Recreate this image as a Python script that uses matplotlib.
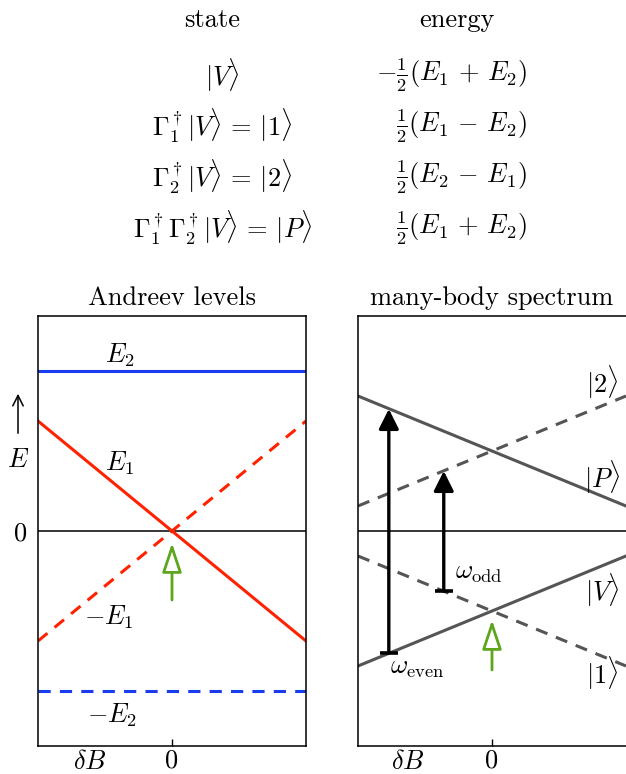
import numpy as np
import matplotlib
matplotlib.use("Agg")
import matplotlib.pyplot as plt

plt.rcParams['font.family'] = 'serif'
plt.rcParams['font.serif'] = ['cmr10']
plt.rcParams['mathtext.fontset'] = 'cm'
plt.rcParams['axes.formatter.use_mathtext'] = True

# field sweep (delta B) and Andreev levels
dB = [-1.0, 1.0]
E1 = [1.1, -1.1]
E2 = [1.6, 1.6]
mE1 = [-1.1, 1.1]
mE2 = [-1.6, -1.6]

# many-body levels
state_V = [-1.35, -0.25]
state_P = [1.35, 0.25]
state_1 = [-0.25, -1.35]
state_2 = [0.25, 1.35]

# transitions (x, from, to)
w_even = (-0.77, -1.22, 1.22)
w_odd = (-0.36, -0.60, 0.60)

# table
states = [r'$|V\rangle$', r'$\Gamma_1^\dagger|V\rangle\,=\,|1\rangle$',
          r'$\Gamma_2^\dagger|V\rangle\,=\,|2\rangle$',
          r'$\Gamma_1^\dagger\Gamma_2^\dagger|V\rangle\,=\,|P\rangle$']
energies = [r'$-\frac{1}{2}(E_1\,+\,E_2)$', r'$\frac{1}{2}(E_1\,-\,E_2)$',
            r'$\frac{1}{2}(E_2\,-\,E_1)$', r'$\frac{1}{2}(E_1\,+\,E_2)$']

W, H = 626, 774
fig = plt.figure(figsize=(W / 100, H / 100), dpi=100)

red = '#ff2200'
blue = '#1a3cf0'
gray = '#555555'
green = '#5ca51c'
fs = 19

def px(x, y):
    return x / W, 1 - y / H

# table text
fig.text(*px(212, 20), 'state', fontsize=fs, ha='center', va='center')
fig.text(*px(457, 20), 'energy', fontsize=fs, ha='center', va='center')
row_y = [75, 126, 177, 228]
for s, e, y in zip(states, energies, row_y):
    fig.text(*px(222, y), s, fontsize=fs, ha='center', va='center')
    fig.text(*px(527, y), e, fontsize=fs, ha='right', va='center')

ax1 = fig.add_axes([38 / W, 28 / H, 268 / W, 430 / H])
ax2 = fig.add_axes([358 / W, 28 / H, 268 / W, 430 / H])

for ax in (ax1, ax2):
    ax.set_xlim(-1, 1)
    ax.set_ylim(-2.15, 2.15)
    ax.axhline(0, color='black', lw=1.1)
    ax.set_xticks([0])
    ax.set_xticklabels(['0'], fontsize=fs)
    ax.tick_params(axis='x', direction='in', length=5, width=1, pad=2)
    for sp in ax.spines.values():
        sp.set_linewidth(1.1)

ax2.spines['right'].set_visible(False)
ax1.set_yticks([0])
ax1.set_yticklabels(['0'], fontsize=fs)
ax1.tick_params(axis='y', length=0, pad=8)
ax2.set_yticks([])

# Andreev levels
ax1.plot(dB, E2, color=blue, lw=2.2)
ax1.plot(dB, mE2, color=blue, lw=2.2, dashes=(4, 3))
ax1.plot(dB, E1, color=red, lw=2.2)
ax1.plot(dB, mE1, color=red, lw=2.2, dashes=(4, 3))
ax1.text(-0.39, 1.76, r'$E_2$', fontsize=fs, ha='center', va='center')
ax1.text(-0.39, 0.68, r'$E_1$', fontsize=fs, ha='center', va='center')
ax1.text(-0.47, -0.86, r'$-E_1$', fontsize=fs, ha='center', va='center')
ax1.text(-0.45, -1.84, r'$-E_2$', fontsize=fs, ha='center', va='center')
ax1.annotate('', xy=(0, -0.12), xytext=(0, -0.69),
             arrowprops=dict(arrowstyle='-|>,head_length=0.9,head_width=0.3',
                             mutation_scale=20, fc='white', ec=green, lw=2,
                             shrinkA=0, shrinkB=0))
ax1.set_title('Andreev levels', fontsize=fs, pad=8)
ax1.text(-0.61, -2.19, r'$\delta B$', fontsize=fs, ha='center', va='top')

# E axis label with arrow
fig.text(*px(18, 460), r'$E$', fontsize=fs, ha='center', va='center')
fig.add_artist(matplotlib.patches.FancyArrowPatch(
    px(18, 436), px(18, 391), transform=fig.transFigure,
    arrowstyle='->,head_length=0.5,head_width=0.25', mutation_scale=15,
    lw=1.1, color='black'))

# many-body spectrum
ax2.plot(dB, state_P, color=gray, lw=2.2)
ax2.plot(dB, state_V, color=gray, lw=2.2)
ax2.plot(dB, state_2, color=gray, lw=2.2, dashes=(4, 3))
ax2.plot(dB, state_1, color=gray, lw=2.2, dashes=(4, 3))
ax2.text(0.82, 1.49, r'$|2\rangle$', fontsize=fs, ha='center', va='center')
ax2.text(0.82, 0.54, r'$|P\rangle$', fontsize=fs, ha='center', va='center')
ax2.text(0.82, -0.59, r'$|V\rangle$', fontsize=fs, ha='center', va='center')
ax2.text(0.82, -1.42, r'$|1\rangle$', fontsize=fs, ha='center', va='center')

for (xa, y0, y1) in (w_even, w_odd):
    ax2.annotate('', xy=(xa, y1), xytext=(xa, y0),
                 arrowprops=dict(arrowstyle='-|>,head_length=0.6,head_width=0.3',
                                 mutation_scale=20, color='black', lw=2.4,
                                 shrinkA=0, shrinkB=0))
    ax2.plot([xa - 0.068, xa + 0.068], [y0, y0], color='black', lw=2.6,
             solid_capstyle='butt')
ax2.text(-0.56, -1.37, r'$\omega_{\rm even}$', fontsize=fs, ha='center', va='center')
ax2.text(-0.1, -0.42, r'$\omega_{\rm odd}$', fontsize=fs, ha='center', va='center')

ax2.annotate('', xy=(0, -0.89), xytext=(0, -1.39),
             arrowprops=dict(arrowstyle='-|>,head_length=0.9,head_width=0.3',
                             mutation_scale=20, fc='white', ec=green, lw=2,
                             shrinkA=0, shrinkB=0))
ax2.set_title('many-body spectrum', fontsize=fs, pad=8)
ax2.text(-0.63, -2.19, r'$\delta B$', fontsize=fs, ha='center', va='top')

fig.savefig('out.png', dpi=100)
